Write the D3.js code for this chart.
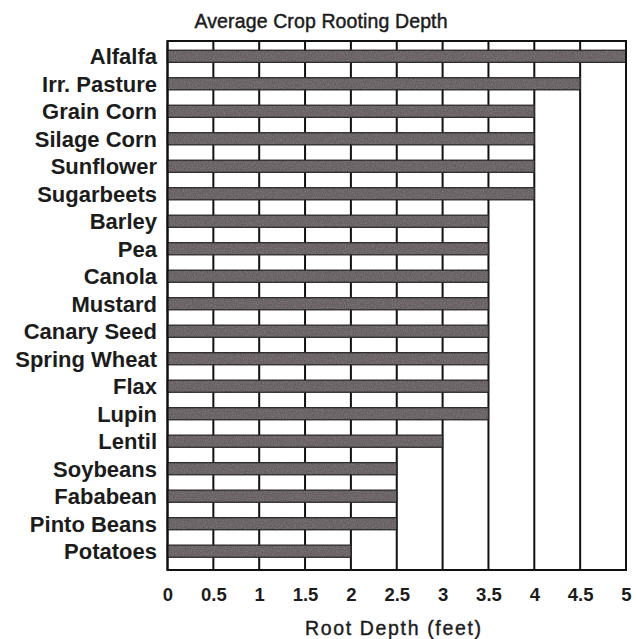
<!DOCTYPE html>
<html>
<head>
<meta charset="utf-8">
<script src="https://cdn.jsdelivr.net/npm/d3@7"></script>
<style>
  html, body { margin: 0; padding: 0; background: #fff; }
  svg { display: block; }
</style>
</head>
<body>
<svg id="chart" width="638" height="639"></svg>
<script>
// Average rooting depth of common crops, in feet
const crops = ["Alfalfa", "Irr. Pasture", "Grain Corn", "Silage Corn", "Sunflower",
  "Sugarbeets", "Barley", "Pea", "Canola", "Mustard", "Canary Seed", "Spring Wheat",
  "Flax", "Lupin", "Lentil", "Soybeans", "Fababean", "Pinto Beans", "Potatoes"];
const depths = [5, 4.5, 4, 4, 4, 4, 3.5, 3.5, 3.5, 3.5, 3.5, 3.5, 3.5, 3.5, 3, 2.5, 2.5, 2.5, 2];
const tickValues = [0, 0.5, 1, 1.5, 2, 2.5, 3, 3.5, 4, 4.5, 5];
const tickLabels = ["0", "0.5", "1", "1.5", "2", "2.5", "3", "3.5", "4", "4.5", "5"];
const chartTitle = "Average Crop Rooting Depth";
const axisTitle = "Root Depth (feet)";

const svg = d3.select("#chart");
const plot = { left: 167.5, right: 626, top: 41, bottom: 570 };

const x = d3.scaleLinear().domain([0, 5]).range([plot.left, plot.right]);
const y = d3.scaleBand().domain(crops).range([plot.top, plot.bottom])
  .paddingInner(0.56).paddingOuter(0.4).align(0.42);

// Speckled fill for the bars
const defs = svg.append("defs");
const grain = defs.append("filter").attr("id", "grain")
  .attr("x", 0).attr("y", 0).attr("width", 1).attr("height", 1);
grain.append("feTurbulence").attr("type", "fractalNoise")
  .attr("baseFrequency", "0.9 0.7").attr("numOctaves", 2).attr("seed", 3).attr("result", "noise");
grain.append("feColorMatrix").attr("in", "noise").attr("type", "matrix")
  .attr("values", "0 0 0 0 0.22  0 0 0 0 0.2  0 0 0 0 0.21  0 0 0 -1.6 1.1").attr("result", "dots");
grain.append("feComposite").attr("in", "dots").attr("in2", "SourceGraphic").attr("operator", "in").attr("result", "clipped");
grain.append("feMerge").selectAll("feMergeNode").data(["SourceGraphic", "clipped"]).join("feMergeNode")
  .attr("in", d => d);

// Plot frame background
svg.append("rect")
  .attr("x", plot.left).attr("y", plot.top)
  .attr("width", plot.right - plot.left).attr("height", plot.bottom - plot.top)
  .attr("fill", "#fff");

// Vertical grid lines every half foot
svg.append("g").selectAll("line").data(tickValues).join("line")
  .attr("x1", d => x(d)).attr("x2", d => x(d))
  .attr("y1", plot.top).attr("y2", plot.bottom)
  .attr("stroke", "#111").attr("stroke-width", 2);

// Bars
svg.append("g").selectAll("rect").data(crops).join("rect")
  .attr("x", x(0))
  .attr("y", d => y(d))
  .attr("width", (d, i) => x(depths[i]) - x(0))
  .attr("height", y.bandwidth())
  .attr("fill", "#645b5e")
  .attr("filter", "url(#grain)");

svg.append("g").selectAll("rect").data(crops).join("rect")
  .attr("x", x(0))
  .attr("y", d => y(d))
  .attr("width", (d, i) => x(depths[i]) - x(0))
  .attr("height", y.bandwidth())
  .attr("fill", "none")
  .attr("stroke", "#2b2a2c").attr("stroke-width", 1.3);

// Frame
svg.append("rect")
  .attr("x", plot.left).attr("y", plot.top)
  .attr("width", plot.right - plot.left).attr("height", plot.bottom - plot.top)
  .attr("fill", "none").attr("stroke", "#111").attr("stroke-width", 2);

// Crop names
svg.append("g").selectAll("text").data(crops).join("text")
  .attr("x", 157)
  .attr("y", d => y(d) + y.bandwidth() / 2)
  .attr("dy", "0.36em")
  .attr("text-anchor", "end")
  .attr("font-family", "'Liberation Sans', Arial, sans-serif")
  .attr("font-weight", "bold")
  .attr("font-size", 22)
  .attr("fill", "#1c1c1c")
  .text(d => d);

// Bottom axis labels
const xAxis = d3.axisBottom(x).tickValues(tickValues)
  .tickFormat((d, i) => tickLabels[i]).tickSize(0).tickPadding(0);
const axisG = svg.append("g").attr("transform", `translate(0, ${plot.bottom})`).call(xAxis);
axisG.select(".domain").remove();
axisG.selectAll("text")
  .attr("y", 31).attr("dy", 0)
  .attr("font-family", "'Liberation Sans', Arial, sans-serif")
  .attr("font-weight", "bold")
  .attr("font-size", 18.5)
  .attr("fill", "#1c1c1c");

// Titles
svg.append("text")
  .attr("x", 321).attr("y", 28)
  .attr("text-anchor", "middle")
  .attr("font-family", "'Liberation Sans', Arial, sans-serif")
  .attr("font-size", 19.5)
  .attr("textLength", 253).attr("lengthAdjust", "spacing")
  .attr("fill", "#1c1c1c")
  .attr("stroke", "#1c1c1c").attr("stroke-width", 0.45)
  .text(chartTitle);

svg.append("text")
  .attr("x", 393).attr("y", 635)
  .attr("text-anchor", "middle")
  .attr("font-family", "'Liberation Sans', Arial, sans-serif")
  .attr("font-size", 19.5)
  .attr("textLength", 176).attr("lengthAdjust", "spacing")
  .attr("fill", "#1c1c1c")
  .attr("stroke", "#1c1c1c").attr("stroke-width", 0.4)
  .text(axisTitle);
</script>
</body>
</html>
